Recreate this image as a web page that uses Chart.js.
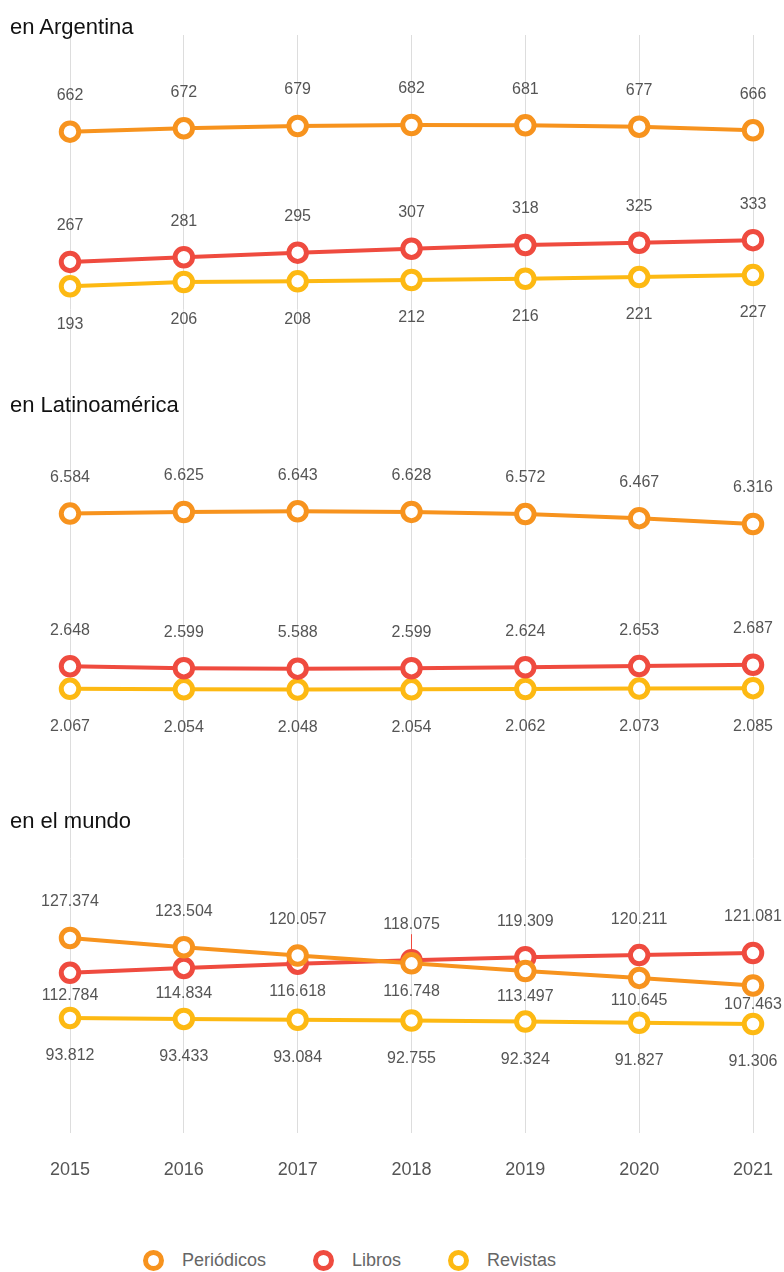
<!DOCTYPE html>
<html lang="es">
<head>
<meta charset="utf-8">
<title>Periódicos, libros y revistas</title>
<script src="https://cdn.jsdelivr.net/npm/chart.js@4.4.1/dist/chart.umd.min.js"></script>
<style>
  html, body { margin: 0; padding: 0; background: #fff; }
  body { width: 784px; height: 1272px; position: relative; font-family: "Liberation Sans", Arial, sans-serif; }
  #wrap { position: absolute; left: 0; top: 0; width: 784px; height: 1195px; }
  .titulo { position: absolute; left: 10px; font-size: 22px; line-height: 24px; color: #111; }
  #leyenda { position: absolute; left: 143px; top: 1250px; display: flex; align-items: center; font-size: 18px; color: #666; }
  #leyenda .item { display: flex; align-items: center; margin-right: 47px; }
  #leyenda .dot { width: 11px; height: 11px; border-radius: 50%; border: 5px solid; background: #fff; margin-right: 18px; }
</style>
</head>
<body>
<div id="wrap"><canvas id="grafico"></canvas></div>
<div class="titulo" style="top:15px">en Argentina</div>
<div class="titulo" style="top:393px">en Latinoamérica</div>
<div class="titulo" style="top:809px">en el mundo</div>
<div id="leyenda"></div>

<script>
/* ----- datos ----- */
const years = ["2015", "2016", "2017", "2018", "2019", "2020", "2021"];
const seriesNames = ["Periódicos", "Libros", "Revistas"];
const seriesColors = ["#F7931E", "#EF4B3F", "#FDB913"];

const argPeriodicos = [662, 672, 679, 682, 681, 677, 666];
const argLibros = [267, 281, 295, 307, 318, 325, 333];
const argRevistas = [193, 206, 208, 212, 216, 221, 227];

const latPeriodicos = [6584, 6625, 6643, 6628, 6572, 6467, 6316];
const latLibros = [2648, 2599, 2588, 2599, 2624, 2653, 2687];
const latRevistas = [2067, 2054, 2048, 2054, 2062, 2073, 2085];

const munPeriodicos = [127374, 123504, 120057, 116748, 113497, 110645, 107463];
const munLibros = [112784, 114834, 116618, 118075, 119309, 120211, 121081];
const munRevistas = [93812, 93433, 93084, 92755, 92324, 91827, 91306];

// el original muestra "5.588" en 2017 (Libros, Latinoamérica)
const latLibrosTexto = ["2.648", "2.599", "5.588", "2.599", "2.624", "2.653", "2.687"];

/* ----- helpers ----- */
function miles(v) {
  return String(v).replace(/\B(?=(\d{3})+(?!\d))/g, ".");
}

function serie(i, data, axis, texts) {
  return {
    label: seriesNames[i],
    data: data,
    yAxisID: axis,
    textos: texts || data.map(miles),
    borderColor: seriesColors[i],
    backgroundColor: seriesColors[i],
    borderWidth: 4,
    pointRadius: 8.75,
    pointHoverRadius: 8.75,
    pointBorderWidth: 5,
    pointBackgroundColor: "#fff",
    pointBorderColor: seriesColors[i],
    tension: 0,
  };
}

/* ----- etiquetas de valores ----- */
const valueLabels = {
  id: "valueLabels",
  afterDatasetsDraw(chart) {
    const ctx = chart.ctx;
    const metas = chart.getSortedVisibleDatasetMetas();
    ctx.save();
    ctx.font = "16px 'Liberation Sans', Arial, sans-serif";
    ctx.textAlign = "center";
    ctx.textBaseline = "middle";
    metas.forEach((meta) => {
      const ds = chart.data.datasets[meta.index];
      meta.data.forEach((pt, j) => {
        let up = Infinity;
        let down = Infinity;
        let upClose = false;
        metas.forEach((other) => {
          if (other === meta) return;
          if (chart.data.datasets[other.index].yAxisID !== ds.yAxisID) return;
          const o = other.data[j];
          if (o.y < pt.y) up = Math.min(up, pt.y - o.y);
          else down = Math.min(down, o.y - pt.y);
          if (Math.abs(o.y - pt.y) < 8 && o.y > pt.y) upClose = true;
        });
        let y;
        if (up < 60) {
          y = down < 70 ? pt.y + down / 2 : pt.y + 38;
        } else {
          y = pt.y - 36;
          // linea guia cuando dos puntos casi se tocan
          if (upClose) {
            ctx.strokeStyle = ds.borderColor;
            ctx.lineWidth = 1;
            ctx.beginPath();
            ctx.moveTo(pt.x, y + 10);
            ctx.lineTo(pt.x, pt.y - 10);
            ctx.stroke();
          }
        }
        ctx.fillStyle = "#555";
        ctx.fillText(ds.textos[j], pt.x, y);
      });
    });
    ctx.restore();
  },
};

/* ----- grafico ----- */
const hiddenAxis = {
  type: "linear",
  position: "left",
  stack: "paneles",
  display: true,
  ticks: { display: false },
  grid: { display: false, drawTicks: false },
  border: { display: false },
};

new Chart("grafico", {
  type: "line",
  data: {
    labels: years,
    datasets: [
      serie(0, argPeriodicos, "yArg"),
      serie(1, argLibros, "yArg"),
      serie(2, argRevistas, "yArg"),
      serie(0, latPeriodicos, "yLat"),
      serie(1, latLibros, "yLat", latLibrosTexto),
      serie(2, latRevistas, "yLat"),
      serie(0, munPeriodicos, "yMun"),
      serie(1, munLibros, "yMun"),
      serie(2, munRevistas, "yMun"),
    ],
  },
  options: {
    responsive: true,
    maintainAspectRatio: false,
    animation: false,
    events: [],
    layout: { padding: { left: 70, right: 31, top: 35, bottom: 10 } },
    plugins: {
      legend: { display: false },
      tooltip: { enabled: false },
    },
    scales: {
      x: {
        type: "category",
        grid: {
          color: "#dddddd",
          lineWidth: 1,
          drawTicks: true,
          tickLength: 22,
          tickColor: "rgba(0,0,0,0)",
        },
        border: { display: false },
        ticks: {
          padding: 4,
          maxRotation: 0,
          color: "#555",
          font: { size: 18, family: "'Liberation Sans', Arial, sans-serif" },
        },
      },
      yMun: { ...hiddenAxis, weight: 1, stackWeight: 322, min: 45424, max: 180664 },
      yLat: { ...hiddenAxis, weight: 2, stackWeight: 415, min: -1082, max: 9630 },
      yArg: { ...hiddenAxis, weight: 3, stackWeight: 360, min: -138, max: 955 },
    },
  },
  plugins: [valueLabels],
});

/* ----- leyenda ----- */
const leyenda = document.querySelector("#leyenda");
seriesNames.forEach((name, i) => {
  const item = document.createElement("div");
  item.className = "item";
  const dot = document.createElement("span");
  dot.className = "dot";
  dot.style.borderColor = seriesColors[i];
  const txt = document.createElement("span");
  txt.textContent = name;
  item.appendChild(dot);
  item.appendChild(txt);
  leyenda.appendChild(item);
});
</script>
</body>
</html>
